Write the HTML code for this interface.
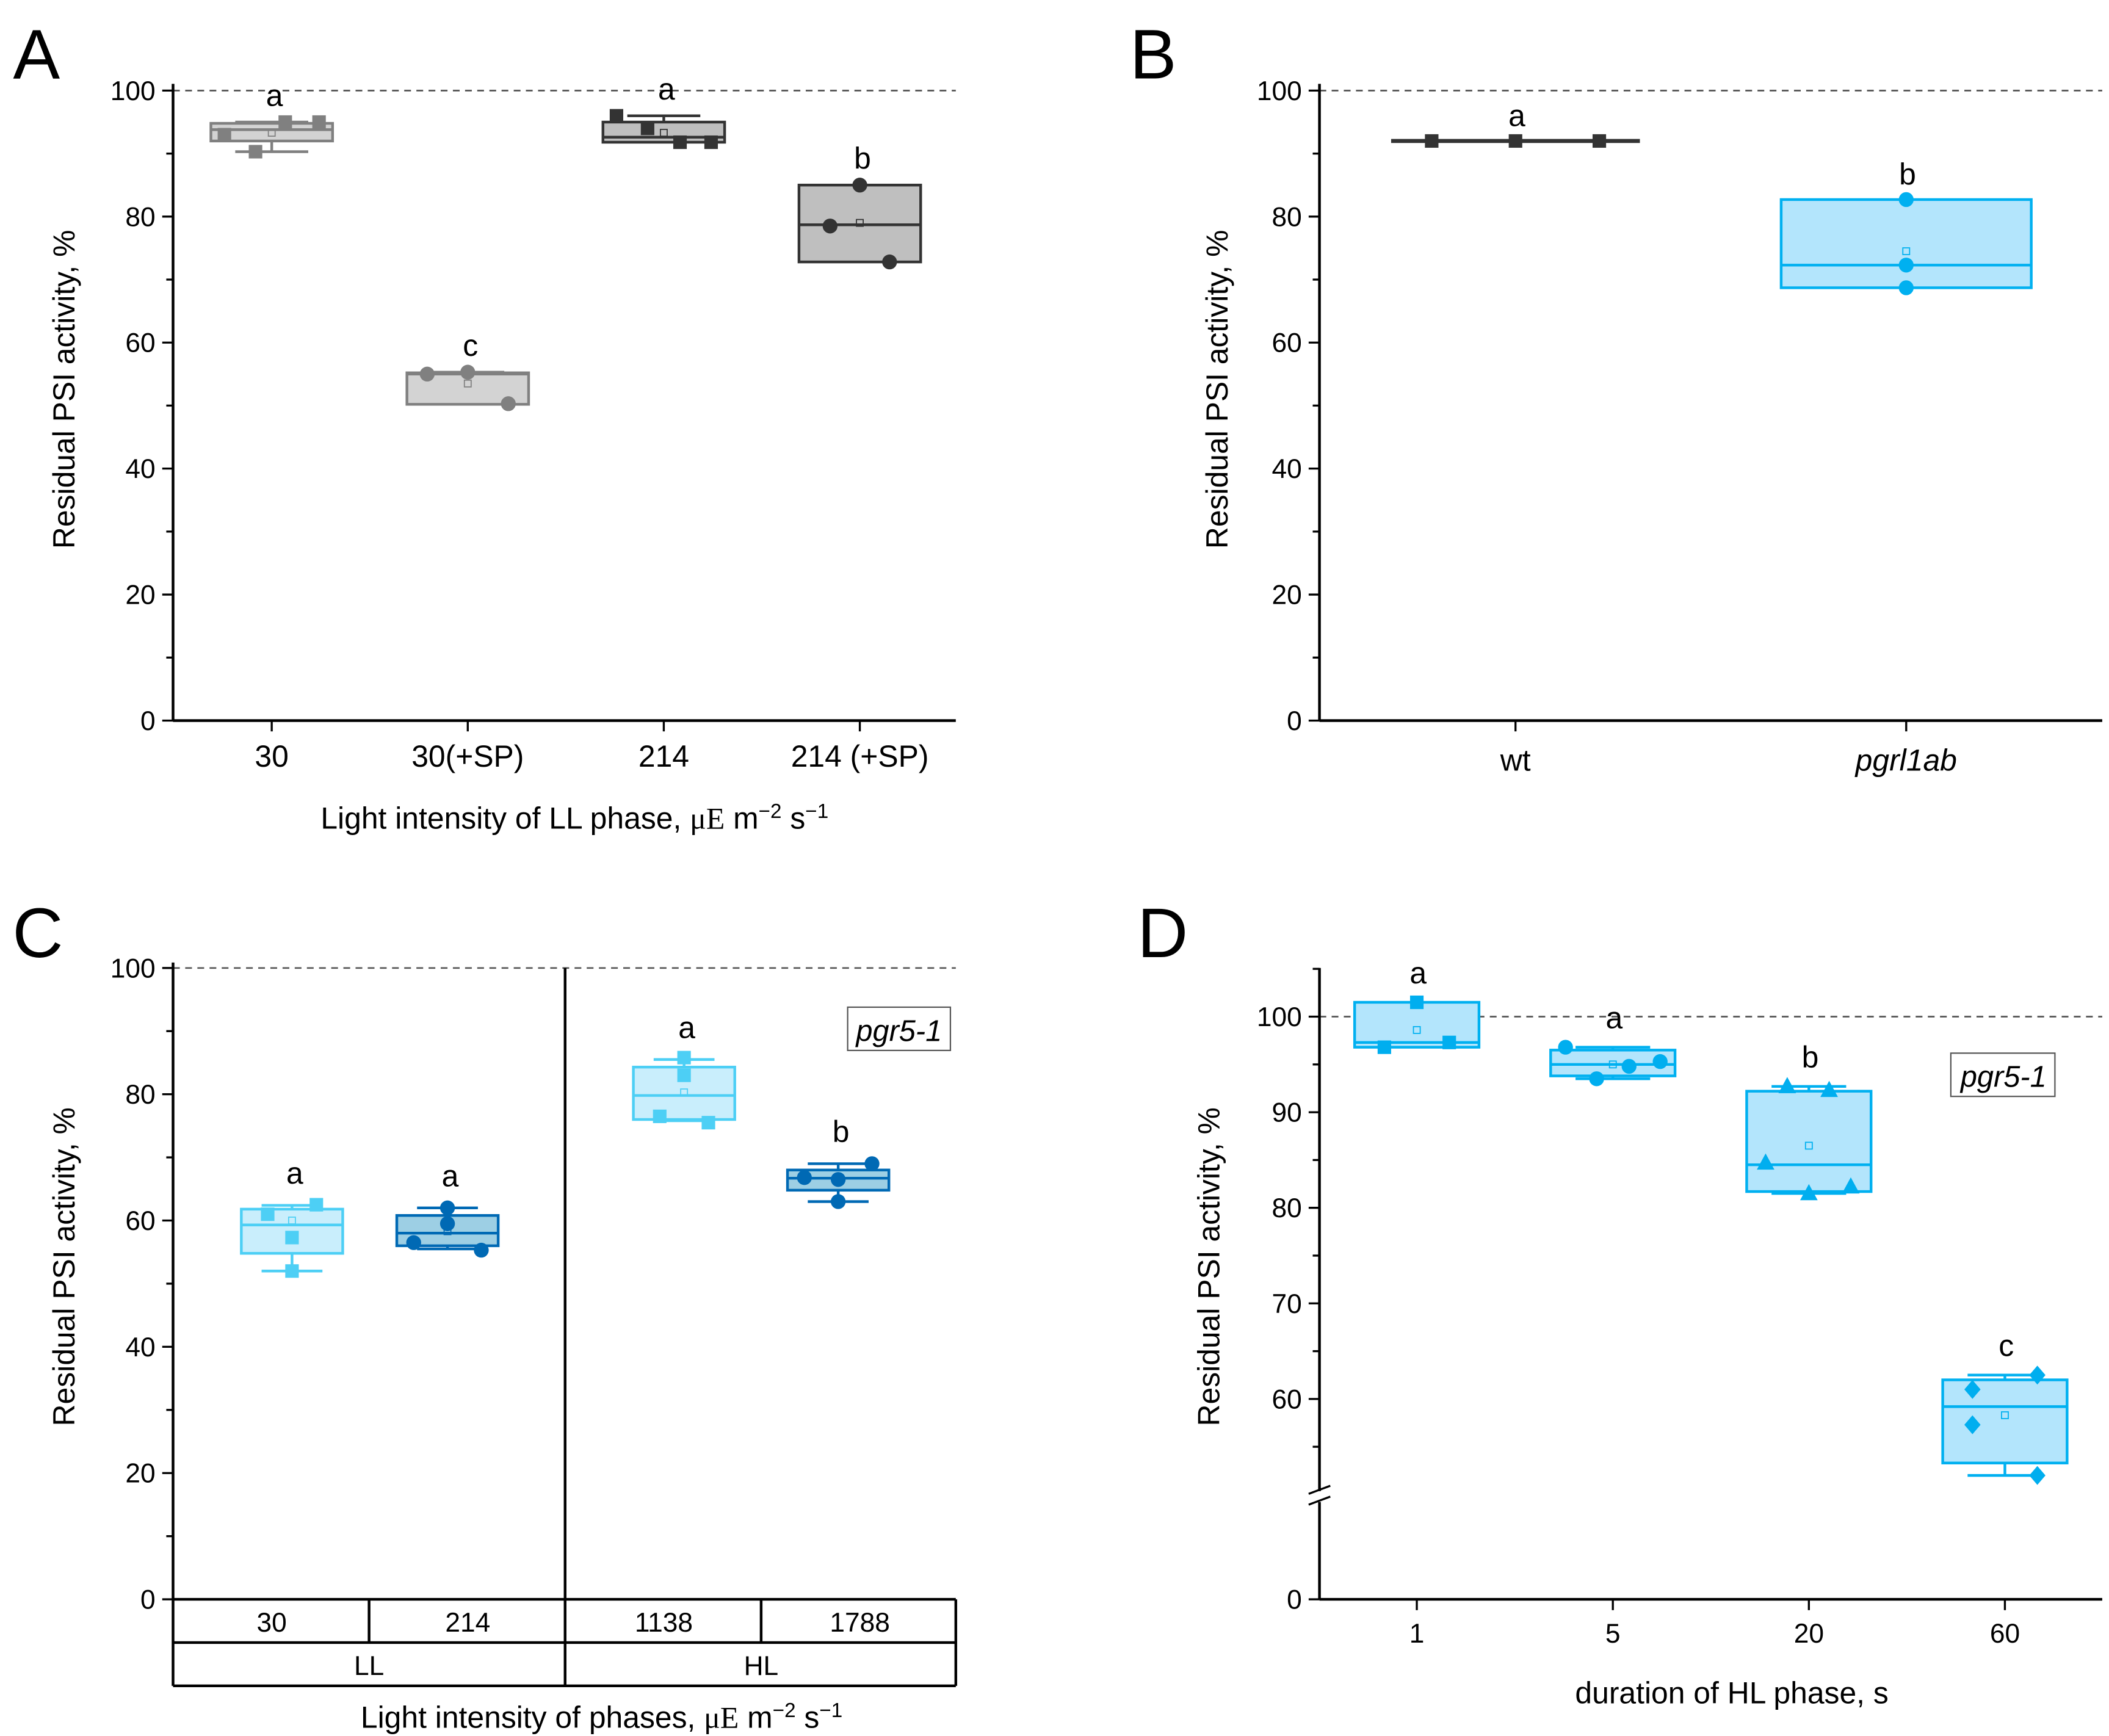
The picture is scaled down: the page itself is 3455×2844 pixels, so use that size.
<!DOCTYPE html>
<html><head><meta charset="utf-8"><style>
html,body{margin:0;padding:0;background:#fff}
svg{display:block}
text{font-family:"Liberation Sans",sans-serif;fill:#000}
</style></head><body>
<svg id="fig" width="3455" height="2844" viewBox="0 0 1560 1284.1" preserveAspectRatio="none" xmlns="http://www.w3.org/2000/svg"></svg>
<script>
// ---------- DATA ----------
const catsA = ["30","30(+SP)","214","214 (+SP)"];
const boxA = [[92,93.8,94.8,90.3,95,93.3],[50.2,55,55.2,50.2,55.3,53.5],[91.8,92.6,95,91.8,96,93.3],[72.8,78.7,85,72.8,85,79]]; // q1,med,q3,min,max,mean
const ptsA = [[93,95,95,90.3],[55,55.3,50.3],[96,94,91.8,91.8],[85,78.5,72.8]];
const lettersA = ["a","c","a","b"];
const catsB = ["wt","pgrl1ab"];
const boxB = [[92,92,92,92,92,92],[68.7,72.3,82.7,68.7,82.7,74.5]];
const ptsB = [[92,92,92],[82.7,72.3,68.7]];
const lettersB = ["a","b"];
const catsC = ["30","214","1138","1788"];
const boxC = [[54.8,59.3,61.8,52,62.4,60],[56,58,60.8,55.5,62,58.3],[76,79.8,84.3,75.8,85.5,80.3],[64.8,66.7,68,63,69,66.5]];
const ptsC = [[62.5,61,57.3,52],[62,59.5,56.5,55.3],[85.8,83,76.5,75.5],[69,66.8,66.5,63]];
const lettersC = ["a","a","a","b"];
const catsD = ["1","5","20","60"];
const boxD = [[96.8,97.3,101.5,96.8,101.5,98.6],[93.8,95,96.5,93.5,96.8,95],[81.7,84.5,92.2,81.5,92.7,86.5],[53.3,59.2,62,52,62.5,58.3]];
const ptsD = [[101.5,97.3,96.8],[96.8,93.5,94.8,95.3],[92.7,92.3,84.7,81.5,82.2],[62.5,61,57.3,52]];
const lettersD = ["a","a","b","c"];

const NS="http://www.w3.org/2000/svg";
const svg=document.getElementById('fig');
function mk(tag,attrs,parent,txt){const e=document.createElementNS(NS,tag);for(const k in attrs)e.setAttribute(k,attrs[k]);if(txt!==undefined)e.textContent=txt;(parent||svg).appendChild(e);return e;}
function T(x,y,s,size,extra,name){const e=mk('text',Object.assign({x:x,y:y,'font-size':size,'text-anchor':'middle'},extra||{}),svg,s);


return e;}

function marker(g,shape,x,y,col){let e;
 if(shape==='sq')e=mk('rect',{x:x-5,y:y-5,width:10,height:10,fill:col},g);
 else if(shape==='ci')e=mk('circle',{cx:x,cy:y,r:5.5,fill:col},g);
 else if(shape==='tr')e=mk('polygon',{points:`${x},${y-7} ${x+6.5},${y+5} ${x-6.5},${y+5}`,fill:col},g);
 else e=mk('polygon',{points:`${x},${y-7} ${x+6},${y} ${x},${y+7} ${x-6},${y}`,fill:col},g);
 
 }

function drawBox(g,cx,w,b,Y,edge,fill){
 const [q1,md,q3,mn,mx,mean]=b;
 const bx=mk('rect',{x:cx-w/2,y:Y(q3),width:w,height:Math.max(Y(q1)-Y(q3),0.5),fill:fill,stroke:edge,'stroke-width':2},g);
 
 
 mk('line',{x1:cx-w/2,x2:cx+w/2,y1:Y(md),y2:Y(md),stroke:edge,'stroke-width':2},g);
 const cw=w*0.6;
 if(mx>q3){mk('line',{x1:cx,x2:cx,y1:Y(q3),y2:Y(mx),stroke:edge,'stroke-width':2},g);mk('line',{x1:cx-cw/2,x2:cx+cw/2,y1:Y(mx),y2:Y(mx),stroke:edge,'stroke-width':2},g);}
 if(mn<q1){mk('line',{x1:cx,x2:cx,y1:Y(q1),y2:Y(mn),stroke:edge,'stroke-width':2},g);mk('line',{x1:cx-cw/2,x2:cx+cw/2,y1:Y(mn),y2:Y(mn),stroke:edge,'stroke-width':2},g);}
 mk('rect',{x:cx-2.5,y:Y(mean)-2.5,width:5,height:5,fill:'none',stroke:edge,'stroke-width':0.8},g);
}

function yAxis(x,Y,ticks,minors,top,bottom,title,tx,tcy){
 mk('line',{x1:x,x2:x,y1:top,y2:bottom,stroke:'#000','stroke-width':2});
 ticks.forEach(v=>{mk('line',{x1:x-8,x2:x,y1:Y(v),y2:Y(v),stroke:'#000','stroke-width':1.5});T(x-13,Y(v)+7,String(v),20,{'text-anchor':'end'},'y-tick-label');});
 minors.forEach(v=>mk('line',{x1:x-5,x2:x,y1:Y(v),y2:Y(v),stroke:'#000','stroke-width':1.5}));
 T(tx,tcy,title,22.5,{transform:`rotate(-90 ${tx} ${tcy})`},'y-axis-title');
}

// ---------- Panel A ----------
(function(){
 const Y=v=>533-v*4.66, X=i=>201+i*145;
 T(27,58,"A",52,{},'panel-label-a');
 mk('line',{x1:128,x2:707,y1:Y(100),y2:Y(100),stroke:'#555','stroke-dasharray':'5,4','stroke-width':1.2});
 yAxis(128,Y,[0,20,40,60,80,100],[10,30,50,70,90],62,533,"Residual PSI activity, %",55,288);
 mk('line',{x1:128,x2:707,y1:533,y2:533,stroke:'#000','stroke-width':2});
 const offs=[[-35,10,35,-12],[-30,0,30],[-35,-12,12,35],[0,-22,22]];
 const shapes=['sq','ci','sq','ci'];
 const edges=['#808080','#808080','#333','#333'],fills=['#d3d3d3','#d3d3d3','#bfbfbf','#bfbfbf'];
 catsA.forEach((c,i)=>{const g=mk('g',{});
  drawBox(g,X(i),90,boxA[i],Y,edges[i],fills[i]);
  ptsA[i].forEach((v,j)=>marker(g,shapes[i],X(i)+offs[i][j],Y(v),edges[i]));
  mk('line',{x1:X(i),x2:X(i),y1:533,y2:541,stroke:'#000','stroke-width':1.5});
  T(X(i),567,c,22.5,{},'x-tick-label');
  T(X(i)+2,Math.min(Y(boxA[i][4]),Y(boxA[i][2]))-12,lettersA[i],22.5,{},'significance-letter');});
 const t=T(425,613,"Light intensity of LL phase, ",22.5,{},'x-axis-title');
 mk('tspan',{'font-family':'Liberation Serif'},t,'μE');mk('tspan',{},t,' m');mk('tspan',{dy:-8,'font-size':15},t,'−2');mk('tspan',{dy:8},t,' s');mk('tspan',{dy:-8,'font-size':15},t,'−1');
})();

// ---------- Panel B ----------
(function(){
 const Y=v=>533-v*4.66, X=i=>1121+i*289;
 T(853,58,"B",52,{},'panel-label-b');
 mk('line',{x1:976,x2:1555,y1:Y(100),y2:Y(100),stroke:'#555','stroke-dasharray':'5,4','stroke-width':1.2});
 yAxis(976,Y,[0,20,40,60,80,100],[10,30,50,70,90],62,533,"Residual PSI activity, %",908,288);
 mk('line',{x1:976,x2:1555,y1:533,y2:533,stroke:'#000','stroke-width':2});
 const g0=mk('g',{});
 mk('line',{x1:X(0)-92,x2:X(0)+92,y1:Y(boxB[0][1]),y2:Y(boxB[0][1]),stroke:'#333','stroke-width':3},g0);
 ptsB[0].forEach((v,j)=>marker(g0,'sq',X(0)+(j-1)*62,Y(v),'#333'));
 const g1=mk('g',{});
 drawBox(g1,X(1),185,boxB[1],Y,'#00b0f0','#b3e5fc');
 ptsB[1].forEach(v=>marker(g1,'ci',X(1),Y(v),'#00b0f0'));
 catsB.forEach((c,i)=>{mk('line',{x1:X(i),x2:X(i),y1:533,y2:541,stroke:'#000','stroke-width':1.5});
  T(X(i),570,c,22.5,i===1?{'font-style':'italic'}:{},'x-tick-label');
  T(X(i)+1,Y(boxB[i][4])-11,lettersB[i],22.5,{},'significance-letter');});
})();

// ---------- Panel C ----------
(function(){
 const Y=v=>1183-v*4.67, X=i=>[216,331,506,620][i];
 T(28,708,"C",52,{},'panel-label-c');
 mk('line',{x1:128,x2:707,y1:Y(100),y2:Y(100),stroke:'#555','stroke-dasharray':'5,4','stroke-width':1.2});
 yAxis(128,Y,[0,20,40,60,80,100],[10,30,50,70,90],712,1247,"Residual PSI activity, %",55,937);
 mk('line',{x1:418,x2:418,y1:716,y2:1247,stroke:'#000','stroke-width':2});
 [1183,1215,1247].forEach(y=>mk('line',{x1:128,x2:707,y1:y,y2:y,stroke:'#000','stroke-width':2}));
 mk('line',{x1:707,x2:707,y1:1183,y2:1247,stroke:'#000','stroke-width':2});
 [273,563].forEach(x=>mk('line',{x1:x,x2:x,y1:1183,y2:1215,stroke:'#000','stroke-width':2}));
 const cellX=[201,346,491,636];
 catsC.forEach((c,i)=>T(cellX[i],1207,c,20,{},'x-tick-label'));
 T(273,1239,"LL",20,{},'group-label-ll');T(563,1239,"HL",20,{},'group-label-hl');
 const light='#4dcff5',lf='#c9eefc',dark='#0069b4',df='#9dcfe4';
 const offs=[[18,-18,0,0],[0,0,-25,25],[0,0,-18,18],[25,-25,0,0]];
 catsC.forEach((c,i)=>{const g=mk('g',{});
  const lt=i%2===0;drawBox(g,X(i),75,boxC[i],Y,lt?light:dark,lt?lf:df);
  ptsC[i].forEach((v,j)=>marker(g,lt?'sq':'ci',X(i)+offs[i][j],Y(v),lt?light:dark));
  T(X(i)+2,Y(boxC[i][4])-16,lettersC[i],22.5,{},'significance-letter');});
 mk('rect',{x:627,y:745,width:76,height:32,fill:'#fff',stroke:'#555','stroke-width':1});
 T(665,770,"pgr5-1",22,{'font-style':'italic'},'genotype-label');
 const t=T(445,1278,"Light intensity of phases, ",22.5,{},'x-axis-title');
 mk('tspan',{'font-family':'Liberation Serif'},t,'μE');mk('tspan',{},t,' m');mk('tspan',{dy:-8,'font-size':15},t,'−2');mk('tspan',{dy:8},t,' s');mk('tspan',{dy:-8,'font-size':15},t,'−1');
})();

// ---------- Panel D ----------
(function(){
 const Y=v=>v>=40?752+(100-v)*7.07:1183-v*2, X=i=>1048+i*145;
 T(860,708,"D",52,{},'panel-label-d');
 mk('line',{x1:976,x2:1555,y1:Y(100),y2:Y(100),stroke:'#555','stroke-dasharray':'5,4','stroke-width':1.2});
 mk('line',{x1:976,x2:976,y1:716,y2:1103,stroke:'#000','stroke-width':2});
 mk('line',{x1:976,x2:976,y1:1111,y2:1183,stroke:'#000','stroke-width':2});
 mk('line',{x1:968,x2:984,y1:1105,y2:1099,stroke:'#000','stroke-width':1.5});
 mk('line',{x1:968,x2:984,y1:1113,y2:1107,stroke:'#000','stroke-width':1.5});
 [100,90,80,70,60,0].forEach(v=>{mk('line',{x1:968,x2:976,y1:Y(v),y2:Y(v),stroke:'#000','stroke-width':1.5});T(963,Y(v)+7,String(v),20,{'text-anchor':'end'},'y-tick-label');});
 [105,95,85,75,65,55].forEach(v=>mk('line',{x1:971,x2:976,y1:Y(v),y2:Y(v),stroke:'#000','stroke-width':1.5}));
 T(902,937,"Residual PSI activity, %",22.5,{transform:'rotate(-90 902 937)'},'y-axis-title');
 mk('line',{x1:976,x2:1555,y1:1183,y2:1183,stroke:'#000','stroke-width':2});
 const offs=[[0,24,-24],[-35,-12,12,35],[-16,15,-32,0,31],[24,-24,-24,24]];
 const shapes=['sq','ci','tr','di'];
 catsD.forEach((c,i)=>{const g=mk('g',{});
  drawBox(g,X(i),92,boxD[i],Y,'#00b0f0','#b3e5fc');
  ptsD[i].forEach((v,j)=>marker(g,shapes[i],X(i)+offs[i][j],Y(v),'#00aeef'));
  mk('line',{x1:X(i),x2:X(i),y1:1183,y2:1191,stroke:'#000','stroke-width':1.5});
  T(X(i),1215,c,20,{},'x-tick-label');
  T(X(i)+1,Y(boxD[i][4])-14,lettersD[i],22.5,{},'significance-letter');});
 mk('rect',{x:1443,y:779,width:77,height:32,fill:'#fff',stroke:'#555','stroke-width':1});
 T(1482,804,"pgr5-1",22,{'font-style':'italic'},'genotype-label');
 T(1281,1260,"duration of HL phase, s",22.5,{},'x-axis-title');
})();
</script>
</body></html>
